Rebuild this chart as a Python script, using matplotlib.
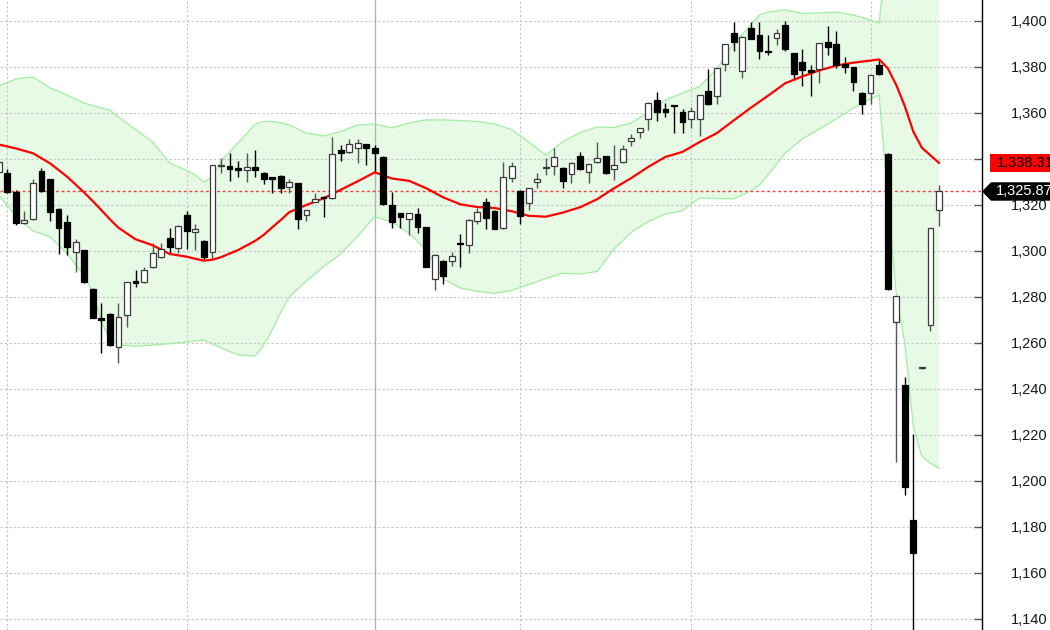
import numpy as np
import matplotlib
matplotlib.use("Agg")
import matplotlib.pyplot as plt
from matplotlib.ticker import FuncFormatter
from matplotlib.patches import Rectangle, Polygon
from matplotlib.transforms import IdentityTransform

plt.rcParams["font.family"] = ["Liberation Sans", "DejaVu Sans"]

# candle data (open, high, low, close), one per bar
opens = [1334.2, 1333.8, 1325.8, 1312.3, 1313.8, 1334.8, 1331.2, 1318.3, 1312.5, 1299.4,
         1300.4, 1283.6, 1270.7, 1272.6, 1258.1, 1272.2, 1287.0, 1286.4, 1292.9, 1297.3,
         1305.5, 1301.2, 1315.7, 1308.1, 1304.5, 1299.4, 1337.0, 1337.1, 1336.1, 1335.3,
         1336.4, 1334.0, 1332.0, 1332.7, 1327.7, 1329.4, 1315.7, 1321.3, 1323.5, 1322.9,
         1343.9, 1342.9, 1344.6, 1346.5, 1344.6, 1341.0, 1319.9, 1316.4, 1313.9, 1316.1,
         1310.3, 1287.7, 1295.8, 1295.7, 1303.3, 1302.6, 1313.2, 1321.2, 1317.5, 1309.9,
         1331.9, 1326.1, 1320.7, 1330.0, 1336.1, 1336.9, 1336.2, 1333.5, 1341.4, 1334.2,
         1338.8, 1341.3, 1335.5, 1338.6, 1348.0, 1351.6, 1357.3, 1365.7, 1361.7, 1363.3,
         1360.4, 1357.4, 1357.4, 1369.7, 1367.5, 1381.2, 1394.6, 1378.3, 1396.8, 1393.9,
         1386.8, 1392.5, 1398.3, 1386.0, 1382.0, 1378.7, 1379.0, 1390.7, 1390.0, 1381.2,
         1379.9, 1368.8, 1368.8, 1380.9, 1342.2, 1269.0, 1241.7, 1183.0, 1249.0, 1267.8,
         1317.8]
highs = [1339.0, 1335.5, 1326.5, 1317.5, 1331.2, 1336.2, 1331.5, 1318.6, 1315.5, 1305.1,
         1300.6, 1283.8, 1277.3, 1273.2, 1277.3, 1286.7, 1291.7, 1293.2, 1303.6, 1303.3,
         1309.9, 1311.2, 1317.4, 1311.7, 1304.7, 1337.6, 1340.6, 1342.5, 1339.3, 1342.5,
         1343.9, 1334.2, 1332.2, 1332.9, 1331.2, 1329.6, 1318.0, 1325.3, 1323.7, 1349.7,
         1346.1, 1348.6, 1348.6, 1346.7, 1346.1, 1341.2, 1325.8, 1316.6, 1316.6, 1318.6,
         1310.5, 1298.5, 1296.0, 1299.7, 1307.4, 1313.7, 1318.6, 1322.9, 1317.7, 1338.8,
         1338.8, 1326.3, 1327.5, 1334.0, 1340.3, 1344.6, 1336.4, 1338.6, 1343.2, 1338.0,
         1347.5, 1341.5, 1346.1, 1346.1, 1350.7, 1353.5, 1364.7, 1369.0, 1364.5, 1363.6,
         1361.6, 1362.5, 1368.0, 1379.0, 1379.6, 1390.2, 1399.7, 1393.4, 1399.7, 1399.7,
         1393.9, 1396.5, 1400.0, 1386.2, 1387.8, 1380.9, 1390.5, 1397.8, 1395.7, 1384.2,
         1380.1, 1369.0, 1376.6, 1383.0, 1342.4, 1280.6, 1245.1, 1220.3, 1249.3, 1310.1,
         1328.7]
lows = [1333.0, 1325.0, 1311.3, 1311.8, 1313.5, 1325.8, 1313.2, 1298.7, 1298.3, 1290.7,
        1286.0, 1270.8, 1255.5, 1258.9, 1251.2, 1266.8, 1284.5, 1286.2, 1292.7, 1297.1,
        1298.7, 1299.0, 1300.7, 1300.4, 1296.4, 1296.1, 1334.0, 1330.6, 1332.3, 1329.9,
        1332.3, 1329.1, 1325.3, 1325.3, 1325.3, 1309.4, 1313.0, 1321.1, 1314.9, 1322.7,
        1339.3, 1342.7, 1338.4, 1337.4, 1334.5, 1320.2, 1309.9, 1309.9, 1307.0, 1307.7,
        1292.9, 1283.0, 1285.5, 1293.5, 1293.2, 1299.0, 1311.7, 1309.4, 1309.4, 1309.7,
        1330.1, 1311.6, 1317.8, 1327.3, 1333.0, 1333.0, 1327.3, 1329.4, 1335.3, 1329.4,
        1338.1, 1333.6, 1330.9, 1338.4, 1345.7, 1349.0, 1352.6, 1356.5, 1358.4, 1351.2,
        1351.2, 1353.3, 1350.0, 1363.6, 1363.9, 1378.3, 1387.1, 1375.4, 1392.0, 1383.3,
        1385.2, 1389.6, 1387.1, 1374.3, 1371.9, 1367.5, 1372.9, 1385.2, 1379.4, 1377.3,
        1369.7, 1359.6, 1363.8, 1376.6, 1283.1, 1208.4, 1193.9, 1130.0, 1248.7, 1265.3,
        1310.9]
closes = [1338.6, 1325.8, 1312.3, 1313.5, 1329.4, 1326.1, 1317.1, 1310.1, 1301.9, 1304.0,
          1286.5, 1271.0, 1270.0, 1259.1, 1271.4, 1286.5, 1285.9, 1291.7, 1299.0, 1300.9,
          1301.6, 1311.0, 1308.8, 1309.4, 1297.5, 1337.4, 1337.2, 1335.8, 1335.3, 1336.4,
          1335.3, 1331.3, 1331.4, 1327.4, 1329.9, 1313.9, 1317.8, 1322.8, 1323.0, 1342.2,
          1342.5, 1346.4, 1347.1, 1344.6, 1342.7, 1320.4, 1312.7, 1314.9, 1316.4, 1310.6,
          1293.2, 1298.3, 1289.1, 1297.8, 1302.9, 1313.5, 1316.8, 1314.5, 1309.6, 1332.0,
          1337.1, 1315.4, 1327.3, 1331.2, 1336.3, 1340.7, 1330.6, 1338.4, 1335.5, 1337.8,
          1340.3, 1333.8, 1337.4, 1344.3, 1349.0, 1353.3, 1364.5, 1360.3, 1360.3, 1363.2,
          1356.2, 1360.7, 1367.8, 1363.8, 1379.4, 1390.0, 1390.7, 1393.2, 1392.2, 1387.1,
          1386.6, 1394.6, 1387.8, 1377.0, 1378.7, 1378.0, 1390.3, 1388.6, 1380.9, 1380.1,
          1373.5, 1363.8, 1376.4, 1376.8, 1283.3, 1280.4, 1197.5, 1168.6, 1249.0, 1309.9,
          1325.87]

# bollinger band readings (bar index, middle, upper, lower)
band_idx = [0, 2, 4, 6, 8, 10, 11, 12, 13, 14, 16, 18, 20, 22, 23, 24, 25, 26, 28, 30,
            31, 32, 33, 34, 36, 38, 40, 42, 44, 46, 48, 50, 52, 54, 56, 58, 60, 62, 64, 66,
            68, 70, 72, 74, 76, 78, 80, 82, 84, 86, 88, 89, 90, 92, 94, 96, 98, 100, 102, 103,
            104, 105, 106, 107, 108, 109, 110]
band_mid = [1346.3, 1344.6, 1342.5, 1338.1, 1332.3, 1325.4, 1321.7, 1317.8, 1313.8, 1310.1,
            1305.1, 1302.5, 1298.7, 1297.5, 1296.6, 1295.8, 1296.2, 1297.3, 1300.4, 1304.4,
            1307.0, 1310.3, 1313.5, 1316.9, 1320.0, 1322.9, 1326.6, 1330.3, 1334.2, 1331.5,
            1330.5, 1327.3, 1323.3, 1320.3, 1319.1, 1318.7, 1317.3, 1315.3, 1314.9, 1316.7,
            1319.0, 1322.5, 1327.3, 1331.7, 1336.6, 1340.9, 1343.1, 1347.4, 1351.2, 1356.8,
            1362.3, 1364.9, 1367.5, 1372.9, 1375.9, 1378.5, 1380.6, 1381.9, 1382.8, 1383.3,
            1379.5, 1372.2, 1363.0, 1351.9, 1344.9, 1341.6, 1338.31]
band_up = [1371.7, 1374.8, 1375.7, 1370.9, 1367.8, 1364.3, 1363.2, 1362.2, 1361.3, 1358.3,
           1352.8, 1347.4, 1338.3, 1335.0, 1333.0, 1330.0, 1332.2, 1339.1, 1347.0, 1355.2,
           1356.3, 1356.3, 1355.7, 1354.8, 1351.3, 1350.0, 1351.9, 1354.8, 1355.2, 1353.5,
           1355.7, 1357.0, 1357.0, 1356.7, 1356.3, 1355.2, 1352.8, 1347.4, 1341.7, 1347.5,
           1351.5, 1353.9, 1353.7, 1355.7, 1360.4, 1365.7, 1368.7, 1371.5, 1379.1, 1390.4,
           1398.3, 1402.6, 1403.9, 1404.8, 1403.3, 1403.5, 1403.9, 1402.6, 1400.4, 1399.0,
           1435.0, 1462.7, 1466.0, 1480.0, 1479.0, 1475.5, 1471.0]
band_lo = [1324.3, 1315.2, 1308.7, 1306.2, 1298.9, 1289.1, 1282.2, 1269.1, 1261.7, 1259.3,
           1258.5, 1259.1, 1259.7, 1260.4, 1260.9, 1261.3, 1259.6, 1257.8, 1254.8, 1254.3,
           1259.1, 1265.7, 1273.5, 1280.0, 1287.0, 1293.2, 1298.7, 1306.5, 1314.9, 1312.6,
           1307.8, 1300.4, 1287.8, 1283.9, 1282.4, 1281.6, 1282.8, 1285.4, 1288.0, 1290.3,
           1290.0, 1291.1, 1300.9, 1308.2, 1312.8, 1316.1, 1317.5, 1323.1, 1322.8, 1322.7,
           1326.1, 1328.7, 1333.0, 1342.5, 1348.7, 1353.0, 1357.4, 1362.2, 1366.1, 1367.8,
           1323.6, 1281.7, 1259.9, 1223.6, 1210.6, 1207.7, 1205.5]

# time grid positions (bar index); the solid one marks a period change
vgrid_dotted = [1, 22, 61, 81, 102]
vgrid_solid = [44]
y_ticks = np.arange(1140, 1401, 20)

last_close = closes[-1]
last_mid = band_mid[-1]

fig = plt.figure(figsize=(10.5, 6.3), dpi=100)
ax = fig.add_axes([0, 0, 981.7 / 1050, 1])

# grid
for yv in y_ticks:
    ax.axhline(yv, color="#c4c4c4", lw=0.8, ls=(0, (2, 2)), zorder=0.5)
for xv in vgrid_dotted:
    ax.axvline(xv, color="#c4c4c4", lw=0.8, ls=(0, (2, 2)), zorder=0.5)
for xv in vgrid_solid:
    ax.axvline(xv, color="#b4b4b4", lw=1.0, zorder=0.5)

# bollinger band
ax.fill_between(band_idx, band_lo, band_up, color="#e6fae6", lw=0, zorder=0.2)
ax.plot(band_idx, band_up, color="#a0eea0", lw=0.9, zorder=1)
ax.plot(band_idx, band_lo, color="#a0eea0", lw=0.9, zorder=1)

# last close line
ax.axhline(last_close, color="#ff3a3a", lw=1.0, ls=(0, (2, 2)), zorder=1.5)

# candles
x = np.arange(len(closes))
o = np.array(opens)
c = np.array(closes)
h = np.array(highs)
l = np.array(lows)
up = c >= o
body_lo = np.minimum(o, c)
body_h = np.maximum(np.abs(c - o), 0.35)
ax.vlines(x[up], l[up], h[up], color="#555555", lw=1.0, zorder=2)
ax.vlines(x[~up], l[~up], h[~up], color="black", lw=1.0, zorder=2)
ax.bar(x[up], body_h[up], bottom=body_lo[up], width=0.68, color="white",
       edgecolor="#3a3a3a", linewidth=0.9, zorder=3)
ax.bar(x[~up], body_h[~up], bottom=body_lo[~up], width=0.68, color="black",
       edgecolor="black", linewidth=0.9, zorder=3)

# middle band
ax.plot(band_idx, band_mid, color="#ff0000", lw=1.6, zorder=2.5)

ax.set_xlim(0.146, 115.0)
ax.set_ylim(1135.2, 1409.13)

for side in ["left", "top", "bottom"]:
    ax.spines[side].set_visible(False)
ax.spines["right"].set_color("black")
ax.spines["right"].set_linewidth(1.0)
ax.set_xticks([])
ax.set_yticks(y_ticks)
ax.yaxis.set_major_formatter(FuncFormatter(lambda v, p: f"{v:,.0f}"))
ax.yaxis.tick_right()
ax.tick_params(axis="y", direction="in", length=6, width=1, color="#555555",
               labelsize=10.5, labelcolor="#1a1a1a", pad=21)

# price labels on the axis
yc_mid = ax.transData.transform((0, last_mid))[1]
yc_close = ax.transData.transform((0, last_close))[1]
fig.add_artist(Rectangle((990, yc_mid - 9.2), 70, 18.4, transform=IdentityTransform(),
                         facecolor="#ff0000", edgecolor="none", zorder=5))
fig.text(996.5, yc_mid, f"{last_mid:,.2f}", transform=IdentityTransform(),
         ha="left", va="center", fontsize=10.5, color="black", zorder=6)
fig.add_artist(Polygon([(982, yc_close), (991, yc_close + 9.2), (1060, yc_close + 9.2),
                        (1060, yc_close - 9.2), (991, yc_close - 9.2)],
                       closed=True, transform=IdentityTransform(),
                       facecolor="black", edgecolor="none", zorder=5))
fig.text(996, yc_close, f"{last_close:,.2f}", transform=IdentityTransform(),
         ha="left", va="center", fontsize=10.5, color="white", zorder=6)

fig.savefig("out.png", dpi=100)
